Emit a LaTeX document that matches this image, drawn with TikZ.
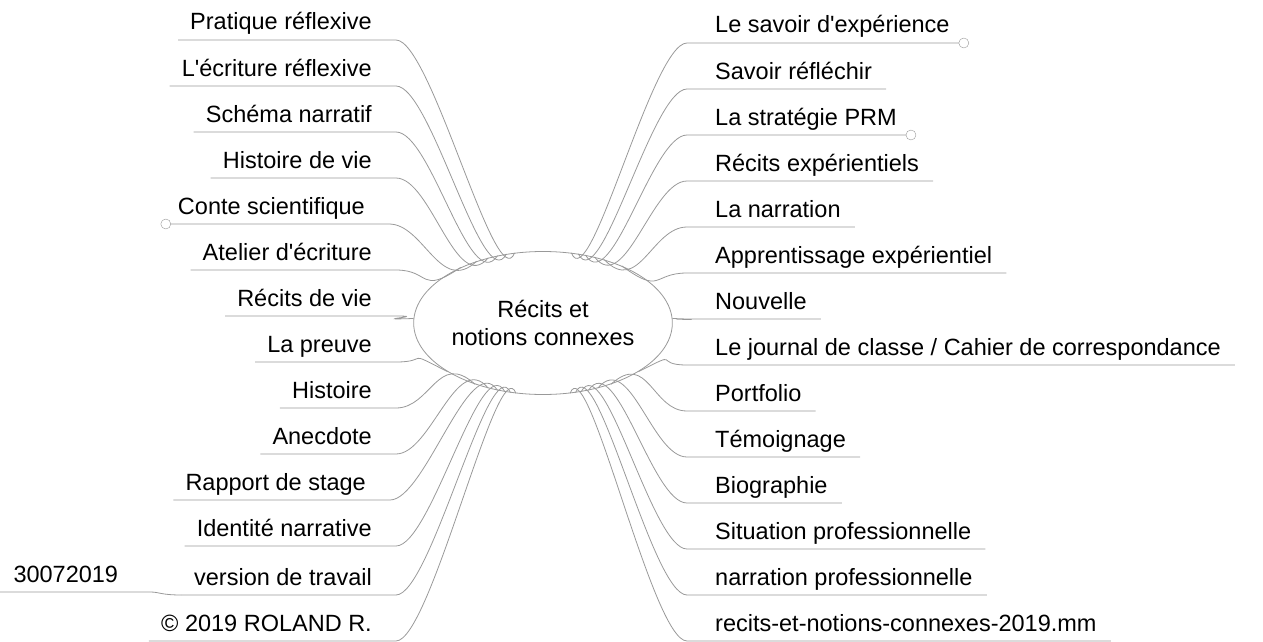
\documentclass[tikz,border=0pt]{standalone}
\usepackage{fontspec}
\setmainfont{Liberation Sans}
\usetikzlibrary{shapes.geometric,positioning}

\begin{document}
\begin{tikzpicture}[x=1pt, y=-1pt, font=\fontsize{23.5}{28}\selectfont,
  lbranch/.style = {anchor = base east, inner xsep = 12pt, inner ysep = 0pt},
  rbranch/.style = {anchor = base west, inner xsep = 14pt, inner ysep = 0pt},
  branchline/.style = {draw = gray!80, line width = 0.8pt},
  knob/.style = {circle, draw = gray!80, fill = white, inner sep = 0pt, minimum size = 10pt}]
\useasboundingbox (0,0) rectangle (1263,642);
\node[ellipse, draw = gray!80, line width = 0.8pt, minimum width = 239pt, minimum height = 143pt, inner sep = 0pt, align = center] (c) at (543,323) {Récits et\\notions connexes};
% left side
\node[lbranch] (l1)  at (384,30)  {Pratique réflexive};
\node[lbranch] (l2)  at (384,76)  {L\textquotesingle écriture réflexive};
\node[lbranch] (l3)  at (384,122) {Schéma narratif};
\node[lbranch] (l4)  at (384,168) {Histoire de vie};
\node[lbranch] (l5)  at (377,214) {Conte scientifique};
\node[lbranch] (l6)  at (384,260) {Atelier d\textquotesingle écriture};
\node[lbranch] (l7)  at (384,306) {Récits de vie};
\node[lbranch] (l8)  at (384,352) {La preuve};
\node[lbranch] (l9)  at (384,398) {Histoire};
\node[lbranch] (l10) at (384,444) {Anecdote};
\node[lbranch] (l11) at (378,490) {Rapport de stage};
\node[lbranch] (l12) at (384,536) {Identité narrative};
\node[lbranch] (l13) at (384,585) {version de travail};
\node[lbranch] (l14) at (384,631) {© 2019 ROLAND R.};
\node[anchor = base west] (v1) at (10,582) {30072019};
% right side
\node[rbranch] (r1)  at (701,33)  {Le savoir d\textquotesingle expérience};
\node[rbranch] (r2)  at (701,79)  {Savoir réfléchir};
\node[rbranch] (r3)  at (701,125) {La stratégie PRM};
\node[rbranch] (r4)  at (701,171) {Récits expérientiels};
\node[rbranch] (r5)  at (701,217) {La narration};
\node[rbranch] (r6)  at (701,263) {Apprentissage expérientiel};
\node[rbranch] (r7)  at (701,309) {Nouvelle};
\node[rbranch] (r8)  at (701,355) {Le journal de classe / Cahier de correspondance};
\node[rbranch] (r9)  at (701,401) {Portfolio};
\node[rbranch] (r10) at (701,447) {Témoignage};
\node[rbranch] (r11) at (701,493) {Biographie};
\node[rbranch] (r12) at (701,539) {Situation professionnelle};
\node[rbranch] (r13) at (701,585) {narration professionnelle};
\node[rbranch] (r14) at (701,631) {recits-et-notions-connexes-2019.mm};
% connectors
\foreach \i/\a in {1/112,2/118,3/124,4/130,5/137,6/146,7/178,8/207,9/222,10/230,11/236,12/241,13/245,14/249}{
  \draw[branchline] ([yshift=-10pt]l\i.base west) -- ([yshift=-10pt,xshift=12pt]l\i.base east)
    .. controls +(35,0) and +(\a:50) .. (c.\a);
}
\foreach \i/\a in {1/68,2/63,3/58,4/52,5/46,6/36,7/2,8/-27,9/-42,10/-50,11/-56,12/-61,13/-65,14/-69}{
  \draw[branchline] ([yshift=-10pt]r\i.base east) -- ([yshift=-10pt,xshift=-14pt]r\i.base west)
    .. controls +(-35,0) and +(\a:50) .. (c.\a);
}
\draw[branchline] (0,592) -- (150,592) .. controls (160,592) and (160,595) .. ([yshift=-10pt]l13.base west);
\node[knob] at ([yshift=-10pt]r1.base east) {};
\node[knob] at ([yshift=-10pt]r3.base east) {};
\node[knob] at ([yshift=-10pt]l5.base west) {};
\end{tikzpicture}
\end{document}
